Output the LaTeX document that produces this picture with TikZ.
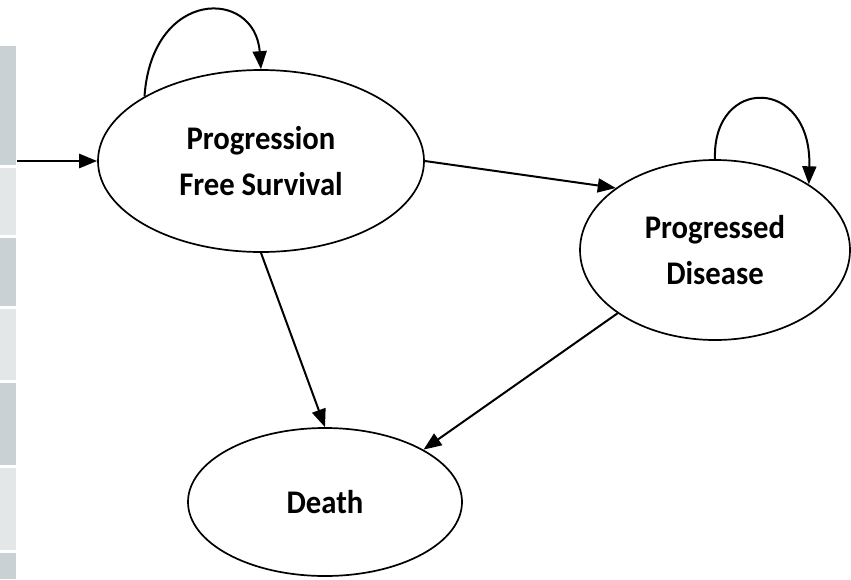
\documentclass[tikz,border=0pt]{standalone}
\usepackage{fontspec}
\setmainfont{Carlito}[FakeStretch = 0.93]
\usetikzlibrary{shapes.geometric, arrows.meta}
\definecolor{darkband}{HTML}{C9D1D4}
\definecolor{lightband}{HTML}{E3E7E8}

\begin{document}
\begin{tikzpicture}[%
  x = 1pt, y = -1pt,
  state/.style = {ellipse, draw, line width = 1.7pt, inner sep = 0pt, align = center,
    font = \fontsize{33}{46}\selectfont\bfseries},
  >= {Triangle[length = 18pt, width = 14pt]},
  line width = 2pt]
  \useasboundingbox (0, 0) rectangle (851, 579);

  % grey strip on the left
  \fill[darkband]  (0, 46)  rectangle (16, 165);
  \fill[lightband] (0, 168) rectangle (16, 235);
  \fill[darkband]  (0, 238) rectangle (16, 306);
  \fill[lightband] (0, 309) rectangle (16, 380);
  \fill[darkband]  (0, 383) rectangle (16, 465);
  \fill[lightband] (0, 468) rectangle (16, 550);
  \fill[darkband]  (0, 553) rectangle (16, 579);

  \node[state, minimum width = 326pt, minimum height = 182pt] (pfs) at (261, 161) {Progression\\Free Survival};
  \node[state, minimum width = 270pt, minimum height = 180pt] (pd)  at (715, 250) {Progressed\\Disease};
  \node[state, minimum width = 274pt, minimum height = 148pt] (death) at (325, 502) {Death};
  \coordinate (start) at (17, 161);

  \draw[->, line width = 2.6pt] (start) -- (pfs.west);
  \draw[->] (pfs.151) .. controls (152, -12) and (255, -12) .. (pfs.north);
  \draw[->] (pd.north) .. controls (712, 76) and (812, 76) .. (pd.35);
  \draw[->] (pfs.east) -- (pd.148);
  \draw[->] (pfs.south) -- (death.north);
  \draw[->] (pd.213) -- (death.28);
\end{tikzpicture}
\end{document}
